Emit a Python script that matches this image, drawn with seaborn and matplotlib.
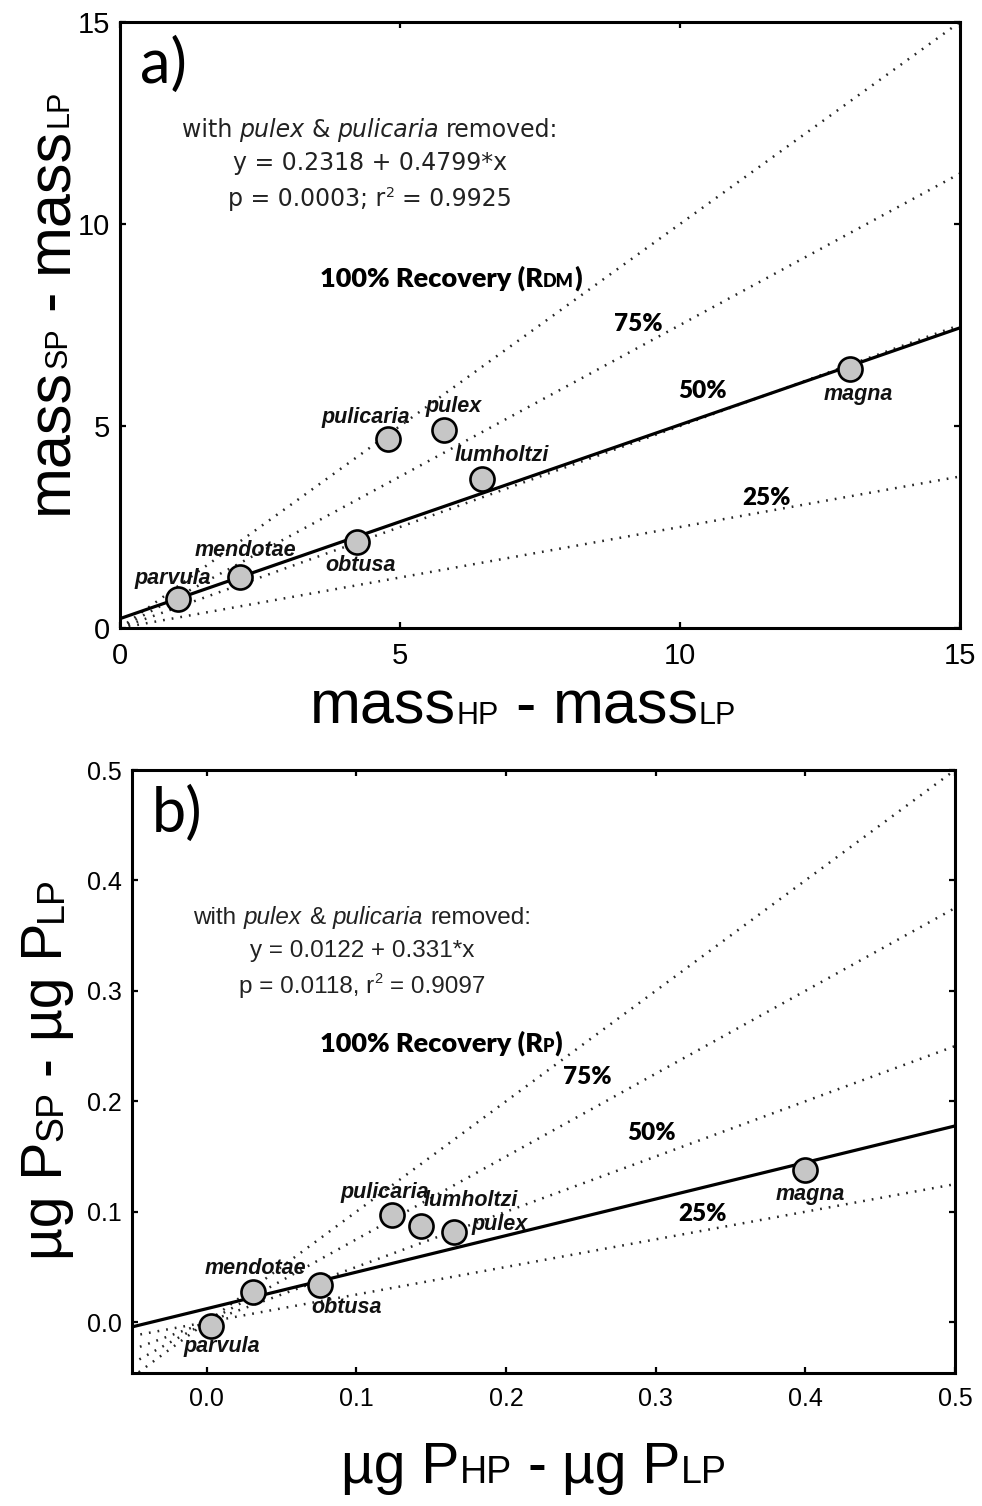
import numpy as np
import pandas as pd
import matplotlib
matplotlib.use("Agg")
import matplotlib.pyplot as plt
import seaborn as sns
from matplotlib.ticker import FixedLocator, FormatStrFormatter

# ---- data -------------------------------------------------------------
species = ["parvula", "mendotae", "obtusa", "pulicaria", "pulex", "lumholtzi", "magna"]

# a) dry mass differences
mass_hp_lp = [1.04, 2.14, 4.23, 4.79, 5.79, 6.46, 13.04]
mass_sp_lp = [0.72, 1.26, 2.12, 4.69, 4.89, 3.68, 6.40]

# b) phosphorus content differences (ug P)
p_hp_lp = [0.003, 0.031, 0.076, 0.124, 0.165, 0.143, 0.400]
p_sp_lp = [-0.003, 0.027, 0.034, 0.097, 0.082, 0.087, 0.138]

recovery_levels = [1.00, 0.75, 0.50, 0.25]
recovery_names = ["100%", "75%", "50%", "25%"]

fit_a = (0.2318, 0.4799)   # intercept, slope
fit_b = (0.0122, 0.331)

x_ticks_a = [0, 5, 10, 15]
y_ticks_a = [0, 5, 10, 15]
x_ticks_b = [0.0, 0.1, 0.2, 0.3, 0.4, 0.5]
y_ticks_b = [0.0, 0.1, 0.2, 0.3, 0.4, 0.5]

# label offsets (points) of the species names relative to their markers
offsets_a = {"parvula": (-4, 15), "mendotae": (4, 19.5), "obtusa": (3, -16.5),
             "pulicaria": (-16.5, 15), "pulex": (6.5, 17), "lumholtzi": (14.5, 17),
             "magna": (6, -18)}
offsets_b = {"parvula": (8, -15), "mendotae": (2, 17), "obtusa": (19, -16.5),
             "pulicaria": (-5, 16.5), "pulex": (33, 5), "lumholtzi": (36.5, 18.5),
             "magna": (3.5, -18)}

df_a = pd.DataFrame({"species": species, "x": mass_hp_lp, "y": mass_sp_lp})
df_b = pd.DataFrame({"species": species, "x": p_hp_lp, "y": p_sp_lp})

# ---- style ------------------------------------------------------------
sns.set_style("ticks")
plt.rcParams["font.family"] = ["Liberation Sans", "DejaVu Sans"]
plt.rcParams["axes.linewidth"] = 2.2
plt.rcParams["text.color"] = "black"
plt.rcParams["axes.labelcolor"] = "black"
plt.rcParams["xtick.color"] = "black"
plt.rcParams["ytick.color"] = "black"

W, H, DPI = 982, 1506, 100
fig = plt.figure(figsize=(W / DPI, H / DPI), dpi=DPI)
fig.patch.set_facecolor("white")

ax_a = fig.add_axes([120 / W, 1 - 628 / H, 840 / W, 606 / H])
ax_b = fig.add_axes([131.7 / W, 1 - 1373 / H, 823.3 / W, 603 / H])

LABEL_FONT = "Liberation Sans"
GILL = "Lato"


def rich(pieces, x, y, rotation=0, align="center"):
    """Draw a run of differently sized text pieces on a common baseline.
    x, y are figure pixels measured from the top-left corner; y (or x when
    rotated) is the baseline.  A piece is (text, kwargs, rise) or a float gap."""
    r = fig.canvas.get_renderer()
    widths = []
    for p in pieces:
        if isinstance(p, (int, float)):
            widths.append(float(p))
            continue
        txt, kw, _ = p
        t = fig.text(0, 0, txt, **kw)
        widths.append(t.get_window_extent(r).width)
        t.remove()
    total = sum(widths)
    pos = -total / 2 if align == "center" else 0.0
    for p, w in zip(pieces, widths):
        if not isinstance(p, (int, float)):
            txt, kw, rise = p
            kw = dict(kw)
            kw.setdefault("color", "black")
            if rotation == 0:
                px, py = x + pos, y - rise
            else:
                px, py = x - rise, y - pos
            fig.text(px / W, 1 - py / H, txt, rotation=rotation,
                     rotation_mode="anchor", ha="left", va="baseline", **kw)
        pos += w


def panel(ax, df, fit, xlim, ylim, xticks, yticks, fmt, offsets, tick_size):
    ax.set_xlim(*xlim)
    ax.set_ylim(*ylim)
    x0 = 0.0 if xlim[0] >= 0 else xlim[0]
    xs = np.array([x0, xlim[1]])
    for k in recovery_levels:
        sns.lineplot(x=xs, y=k * xs, ax=ax, color="#262626", lw=1.8,
                     linestyle=(0, (0.7, 2.8)), zorder=2)
    xr = np.array(xlim)
    sns.lineplot(x=xr, y=fit[0] + fit[1] * xr, ax=ax, color="black", lw=2.3, zorder=3)
    sns.scatterplot(data=df, x="x", y="y", ax=ax, s=300, color="#c6c6c6",
                    edgecolor="black", linewidth=1.9, zorder=5, legend=False)
    for _, row in df.iterrows():
        ax.annotate(row["species"], (row["x"], row["y"]),
                    xytext=offsets[row["species"]], textcoords="offset points",
                    ha="center", va="center", fontsize=15.5, fontweight="bold",
                    fontstyle="italic", family=LABEL_FONT, color="#111111", zorder=6)
    ax.xaxis.set_major_locator(FixedLocator(xticks))
    ax.yaxis.set_major_locator(FixedLocator(yticks))
    ax.xaxis.set_major_formatter(FormatStrFormatter(fmt))
    ax.yaxis.set_major_formatter(FormatStrFormatter(fmt))
    ax.tick_params(direction="in", length=4.5, width=1.6, top=True, right=True,
                   labelsize=tick_size, colors="black")
    ax.tick_params(axis="x", pad=10)
    ax.tick_params(axis="y", pad=7)
    ax.set_xlabel("")
    ax.set_ylabel("")
    for s in ax.spines.values():
        s.set_linewidth(2.2)
        s.set_color("black")


panel(ax_a, df_a, fit_a, (0, 15), (0, 15), x_ticks_a, y_ticks_a, "%d", offsets_a, 21)
panel(ax_b, df_b, fit_b, (-0.05, 0.5), (-0.046, 0.5), x_ticks_b, y_ticks_b, "%.1f",
      offsets_b, 18)

# panel letters
for ax, letter, y in [(ax_a, "a)", 0.899), (ax_b, "b)", 0.897)]:
    ax.text(0.024, y, letter, transform=ax.transAxes, family=GILL, fontsize=44,
            ha="left", va="baseline", color="black")

# percentage labels
pct_kw = dict(family=GILL, fontweight="heavy", fontsize=17.5, ha="center", va="center",
              zorder=6, color="black")
for (px, py), name in zip([(9.25, 7.53), (10.41, 5.87), (11.55, 3.21)], recovery_names[1:]):
    ax_a.text(px, py, name, **pct_kw)
for (px, py), name in zip([(0.2545, 0.222), (0.2974, 0.171), (0.331, 0.0978)], recovery_names[1:]):
    ax_b.text(px, py, name, **pct_kw)

fig.canvas.draw()

# recovery labels
big = dict(family=GILL, fontweight="heavy", fontsize=19.5)
small = dict(family=GILL, fontweight="heavy", fontsize=13)
rich([("100% Recovery (R", big, 0), ("DM", small, 0), (")", big, 0)], 320, 287, align="left")
rich([("100% Recovery (R", big, 0), ("P", small, 0), (")", big, 0)], 320, 1052, align="left")

# regression annotations
def stats_block(x, baselines, family, size, eq, pval, r2):
    reg = dict(family=family, fontsize=size, color="#222222")
    ita = dict(family=family, fontsize=size, fontstyle="italic", color="#222222")
    sup = dict(family=family, fontsize=size * 0.6, color="#222222")
    sp = size * 1.389 * 0.30
    rich([("with", reg, 0), sp, ("pulex", ita, 0), sp, ("&", reg, 0), sp,
          ("pulicaria", ita, 0), sp, ("removed:", reg, 0)], x, baselines[0])
    rich([(eq, reg, 0)], x, baselines[1])
    rich([(pval + " r", reg, 0), ("2", sup, size * 0.55), sp, ("= " + r2, reg, 0)], x, baselines[2])

stats_block(370, (137, 170, 206), "DejaVu Sans", 17,
            "y = 0.2318 + 0.4799*x", "p = 0.0003;", "0.9925")
stats_block(362, (924, 957, 993), "Liberation Sans", 17.5,
            "y = 0.0122 + 0.331*x", "p = 0.0118,", "0.9097")

# axis titles built from baseline-aligned pieces
def axis_title(first, sub1, second, sub2, x, y, E, S, rotation):
    e = dict(family=LABEL_FONT, fontsize=E)
    s = dict(family=LABEL_FONT, fontsize=S)
    gap = E * 1.389 * 0.278
    rich([(first, e, 0), (sub1, s, 0), gap, ("-", e, 0), gap, (second, e, 0), (sub2, s, 0)],
         x, y, rotation=rotation)

axis_title("mass", "HP", "mass", "LP", 523, 724, 44, 22, 0)
axis_title("mass", "SP", "mass", "LP", 67, 302, 44, 22, 90)
axis_title("\u00b5g P", "HP", "\u00b5g P", "LP", 534, 1483, 41, 27, 0)
axis_title("\u00b5g P", "SP", "\u00b5g P", "LP", 62, 1068, 41, 27, 90)

fig.savefig("out.png", dpi=DPI, facecolor="white")
